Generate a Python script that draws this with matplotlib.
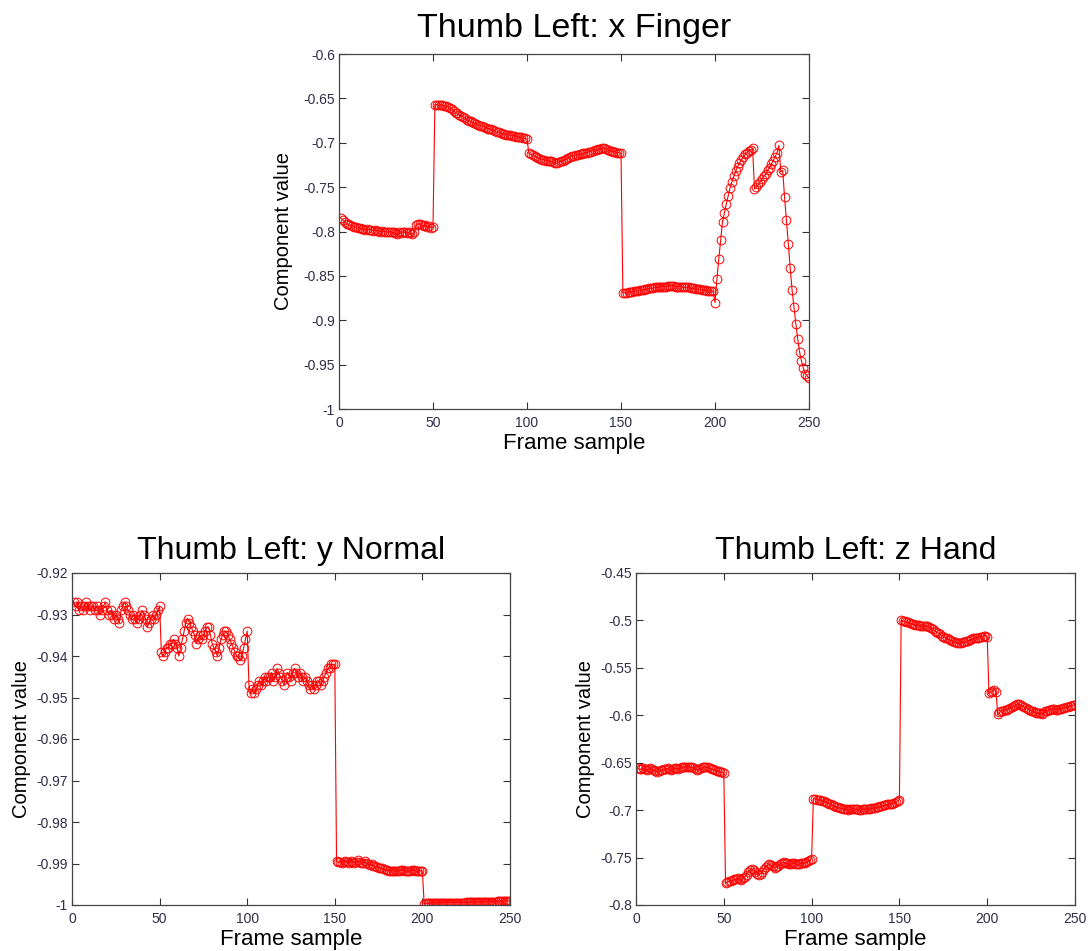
import numpy as np
import matplotlib
matplotlib.use('Agg')
import matplotlib.pyplot as plt
from matplotlib.ticker import FuncFormatter

plt.rcParams['font.family'] = ['Liberation Sans', 'DejaVu Sans']

# frame index 1..250
frames = list(range(1, 251))

# Thumb Left: x Finger
x_finger = [
    -0.785, -0.787, -0.789, -0.791, -0.792, -0.793, -0.794, -0.795, -0.795, -0.796,
    -0.796, -0.797, -0.797, -0.798, -0.797, -0.798, -0.798, -0.799, -0.798, -0.799,
    -0.799, -0.800, -0.799, -0.800, -0.800, -0.801, -0.800, -0.801, -0.801, -0.802,
    -0.803, -0.801, -0.802, -0.800, -0.801, -0.802, -0.801, -0.802, -0.803, -0.801,
    -0.793, -0.791, -0.792, -0.793, -0.794, -0.793, -0.795, -0.794, -0.796, -0.795,
    -0.657, -0.657, -0.658, -0.658, -0.658, -0.659, -0.659, -0.660, -0.661, -0.662,
    -0.664, -0.666, -0.667, -0.669, -0.670, -0.671, -0.672, -0.674, -0.675, -0.676,
    -0.677, -0.678, -0.679, -0.680, -0.681, -0.681, -0.682, -0.683, -0.684, -0.684,
    -0.685, -0.686, -0.687, -0.688, -0.688, -0.689, -0.690, -0.690, -0.691, -0.691,
    -0.691, -0.692, -0.692, -0.693, -0.693, -0.694, -0.694, -0.695, -0.695, -0.696,
    -0.712, -0.713, -0.714, -0.715, -0.716, -0.717, -0.718, -0.719, -0.719, -0.720,
    -0.720, -0.721, -0.721, -0.722, -0.723, -0.723, -0.722, -0.721, -0.720, -0.719,
    -0.718, -0.717, -0.716, -0.715, -0.715, -0.714, -0.714, -0.713, -0.713, -0.712,
    -0.711, -0.711, -0.710, -0.710, -0.709, -0.708, -0.708, -0.707, -0.707, -0.706,
    -0.706, -0.707, -0.708, -0.709, -0.709, -0.710, -0.710, -0.711, -0.711, -0.712,
    -0.869, -0.869, -0.869, -0.868, -0.868, -0.868, -0.867, -0.867, -0.867, -0.866,
    -0.866, -0.866, -0.865, -0.865, -0.864, -0.864, -0.864, -0.863, -0.863, -0.863,
    -0.862, -0.862, -0.862, -0.862, -0.861, -0.861, -0.861, -0.861, -0.862, -0.862,
    -0.862, -0.862, -0.863, -0.863, -0.863, -0.863, -0.864, -0.864, -0.864, -0.865,
    -0.865, -0.865, -0.866, -0.866, -0.866, -0.867, -0.867, -0.867, -0.867, -0.880,
    -0.854, -0.831, -0.810, -0.789, -0.779, -0.769, -0.760, -0.751, -0.744, -0.738,
    -0.732, -0.727, -0.723, -0.719, -0.716, -0.713, -0.711, -0.709, -0.708, -0.706,
    -0.752, -0.750, -0.747, -0.744, -0.741, -0.738, -0.735, -0.731, -0.728, -0.724,
    -0.720, -0.716, -0.711, -0.703, -0.733, -0.731, -0.761, -0.787, -0.814, -0.841,
    -0.866, -0.885, -0.904, -0.921, -0.936, -0.946, -0.954, -0.960, -0.963, -0.965,
]

# Thumb Left: y Normal
y_normal = [
    -0.927, -0.928, -0.927, -0.929, -0.928, -0.929, -0.928, -0.927, -0.928, -0.929,
    -0.928, -0.928, -0.929, -0.928, -0.929, -0.930, -0.929, -0.928, -0.927, -0.929,
    -0.930, -0.929, -0.930, -0.931, -0.930, -0.931, -0.932, -0.929, -0.928, -0.927,
    -0.928, -0.929, -0.930, -0.931, -0.930, -0.931, -0.932, -0.931, -0.930, -0.929,
    -0.930, -0.931, -0.933, -0.932, -0.931, -0.930, -0.931, -0.930, -0.929, -0.928,
    -0.939, -0.940, -0.939, -0.938, -0.938, -0.937, -0.937, -0.936, -0.937, -0.938,
    -0.940, -0.938, -0.936, -0.934, -0.932, -0.931, -0.932, -0.933, -0.934, -0.935,
    -0.937, -0.936, -0.935, -0.936, -0.935, -0.934, -0.933, -0.933, -0.935, -0.937,
    -0.938, -0.939, -0.940, -0.938, -0.936, -0.935, -0.934, -0.934, -0.935, -0.936,
    -0.937, -0.938, -0.939, -0.940, -0.940, -0.941, -0.940, -0.938, -0.936, -0.934,
    -0.947, -0.949, -0.948, -0.949, -0.948, -0.947, -0.946, -0.947, -0.946, -0.945,
    -0.946, -0.945, -0.945, -0.944, -0.946, -0.945, -0.943, -0.944, -0.945, -0.946,
    -0.947, -0.945, -0.944, -0.945, -0.946, -0.944, -0.943, -0.944, -0.945, -0.944,
    -0.945, -0.946, -0.945, -0.946, -0.947, -0.948, -0.947, -0.948, -0.947, -0.946,
    -0.946, -0.947, -0.946, -0.945, -0.944, -0.943, -0.943, -0.942, -0.942, -0.942,
    -0.9895, -0.9897, -0.9896, -0.9898, -0.9897, -0.9895, -0.9896, -0.9898, -0.9893, -0.9896,
    -0.9898, -0.9897, -0.9892, -0.9897, -0.9899, -0.9898, -0.9894, -0.9899, -0.9901, -0.9904,
    -0.9902, -0.9905, -0.9907, -0.9908, -0.9910, -0.9911, -0.9912, -0.9914, -0.9915, -0.9916,
    -0.9917, -0.9917, -0.9918, -0.9918, -0.9919, -0.9918, -0.9917, -0.9915, -0.9916, -0.9918,
    -0.9918, -0.9919, -0.9917, -0.9915, -0.9916, -0.9918, -0.9919, -0.9918, -0.9917, -0.9919,
    -0.9997, -0.9996, -0.9996, -0.9996, -0.9995, -0.9995, -0.9995, -0.9995, -0.9995, -0.9995,
    -0.9995, -0.9995, -0.9994, -0.9994, -0.9994, -0.9994, -0.9994, -0.9994, -0.9994, -0.9994,
    -0.9994, -0.9994, -0.9994, -0.9994, -0.9993, -0.9993, -0.9993, -0.9993, -0.9993, -0.9993,
    -0.9993, -0.9993, -0.9993, -0.9993, -0.9993, -0.9992, -0.9992, -0.9992, -0.9992, -0.9992,
    -0.9992, -0.9992, -0.9991, -0.9991, -0.9991, -0.9991, -0.9990, -0.9990, -0.9990, -0.9990,
]

# Thumb Left: z Hand
z_hand = [
    -0.656, -0.657, -0.657, -0.656, -0.657, -0.658, -0.657, -0.656, -0.657, -0.658,
    -0.659, -0.660, -0.659, -0.658, -0.658, -0.657, -0.657, -0.656, -0.657, -0.658,
    -0.657, -0.656, -0.656, -0.657, -0.656, -0.655, -0.654, -0.654, -0.655, -0.654,
    -0.655, -0.655, -0.656, -0.657, -0.658, -0.657, -0.656, -0.655, -0.654, -0.655,
    -0.655, -0.656, -0.657, -0.657, -0.658, -0.659, -0.659, -0.660, -0.660, -0.661,
    -0.777, -0.776, -0.775, -0.775, -0.774, -0.773, -0.773, -0.772, -0.773, -0.774,
    -0.772, -0.770, -0.768, -0.765, -0.763, -0.762, -0.763, -0.765, -0.767, -0.768,
    -0.767, -0.765, -0.762, -0.760, -0.758, -0.757, -0.758, -0.759, -0.761, -0.760,
    -0.759, -0.757, -0.756, -0.755, -0.756, -0.756, -0.757, -0.757, -0.756, -0.756,
    -0.757, -0.757, -0.757, -0.756, -0.756, -0.756, -0.755, -0.754, -0.753, -0.751,
    -0.688, -0.688, -0.689, -0.689, -0.689, -0.690, -0.690, -0.691, -0.692, -0.693,
    -0.694, -0.695, -0.696, -0.697, -0.697, -0.698, -0.698, -0.699, -0.699, -0.699,
    -0.700, -0.699, -0.699, -0.699, -0.699, -0.699, -0.700, -0.700, -0.699, -0.699,
    -0.699, -0.699, -0.699, -0.698, -0.698, -0.698, -0.697, -0.697, -0.696, -0.696,
    -0.695, -0.695, -0.694, -0.694, -0.693, -0.693, -0.692, -0.691, -0.690, -0.689,
    -0.500, -0.501, -0.501, -0.502, -0.502, -0.503, -0.504, -0.504, -0.505, -0.505,
    -0.505, -0.506, -0.506, -0.506, -0.506, -0.506, -0.507, -0.508, -0.509, -0.511,
    -0.512, -0.513, -0.514, -0.516, -0.517, -0.518, -0.519, -0.520, -0.521, -0.522,
    -0.523, -0.523, -0.524, -0.524, -0.524, -0.523, -0.523, -0.522, -0.522, -0.521,
    -0.520, -0.519, -0.519, -0.518, -0.518, -0.517, -0.517, -0.516, -0.516, -0.517,
    -0.577, -0.575, -0.574, -0.573, -0.575, -0.599, -0.597, -0.596, -0.595, -0.594,
    -0.594, -0.593, -0.592, -0.591, -0.590, -0.589, -0.588, -0.588, -0.589, -0.590,
    -0.591, -0.592, -0.593, -0.594, -0.595, -0.596, -0.597, -0.598, -0.598, -0.598,
    -0.599, -0.598, -0.596, -0.595, -0.594, -0.594, -0.593, -0.593, -0.594, -0.594,
    -0.593, -0.593, -0.592, -0.592, -0.591, -0.591, -0.590, -0.590, -0.589, -0.589,
]

titles = ['Thumb Left: x Finger', 'Thumb Left: y Normal', 'Thumb Left: z Hand']
ylims = [(-1, -0.6), (-1, -0.92), (-0.8, -0.45)]
ysteps = [0.05, 0.01, 0.05]
title_sizes = [24.5, 23]
title_pads = [12, 10]
ylabel_pads = [7, 3.5]

W, H = 1090, 951
fig = plt.figure(figsize=(W / 100, H / 100), dpi=100)

# axes boxes in pixels: left, top, right, bottom
boxes = [(339, 54, 809, 409), (72, 573, 510, 905), (636, 573, 1075, 905)]
series = [x_finger, y_normal, z_hand]

tickcol = '#2e2e48'
for i, (box, data, title, yl, st) in enumerate(zip(boxes, series, titles, ylims, ysteps)):
    l, t, r, b = box
    ax = fig.add_axes([l / W, (H - b) / H, (r - l) / W, (b - t) / H])
    ax.plot(frames, data, color='red', linewidth=0.8, marker='o', markersize=6.3,
            markerfacecolor='none', markeredgecolor='red', markeredgewidth=0.7)
    ax.set_xlim(0, 250)
    ax.set_ylim(*yl)
    ax.set_xticks([0, 50, 100, 150, 200, 250])
    ax.set_yticks(np.arange(yl[0], yl[1] + st / 2, st))
    ax.yaxis.set_major_formatter(FuncFormatter(lambda v, p: '%g' % round(v, 4)))
    ax.tick_params(direction='in', top=True, right=True, length=5, width=0.8,
                   labelsize=10, colors='#333333', labelcolor=tickcol)
    ax.tick_params(axis='x', pad=5)
    ax.tick_params(axis='y', pad=3)
    for s in ax.spines.values():
        s.set_color('#444444')
        s.set_linewidth(0.9)
    k = 0 if i == 0 else 1
    ax.set_title(title, fontsize=title_sizes[k], pad=title_pads[k])
    ax.set_xlabel('Frame sample', fontsize=16, labelpad=2)
    ax.set_ylabel('Component value', fontsize=14.5, labelpad=ylabel_pads[k])

fig.savefig('out.png', dpi=100)
